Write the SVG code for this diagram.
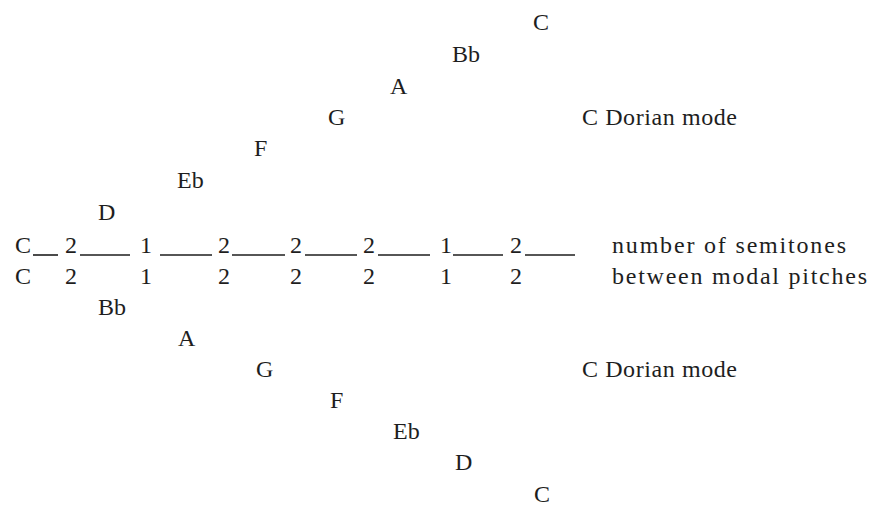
<svg xmlns="http://www.w3.org/2000/svg" width="872" height="510" viewBox="0 0 872 510" font-family="'Liberation Serif', 'DejaVu Serif', 'Times New Roman', serif">
<style>
text{font-family:'Liberation Serif','DejaVu Serif','Times New Roman',serif;font-size:24px;fill:#1e1e1e}
.ln{stroke:#1e1e1e;stroke-width:1.6}
</style>
<rect width="872" height="510" fill="#fff"/>
<g id="upper-mode">
<text x="533" y="30">C</text>
<text x="452" y="62">Bb</text>
<text x="390" y="94">A</text>
<text x="328" y="125">G</text>
<text x="254" y="156">F</text>
<text x="177" y="188">Eb</text>
<text x="98" y="220">D</text>
<text x="582" y="125" textLength="155" lengthAdjust="spacing">C Dorian mode</text>
</g>
<g id="row1">
<text x="15" y="253">C</text>
<text x="65" y="253">2</text>
<text x="140" y="253">1</text>
<text x="218" y="253">2</text>
<text x="290" y="253">2</text>
<text x="363" y="253">2</text>
<text x="440" y="253">1</text>
<text x="510" y="253">2</text>
<text x="612" y="253" textLength="234" lengthAdjust="spacing">number of semitones</text>
</g>
<g id="row2">
<text x="15" y="284">C</text>
<text x="65" y="284">2</text>
<text x="140" y="284">1</text>
<text x="218" y="284">2</text>
<text x="290" y="284">2</text>
<text x="363" y="284">2</text>
<text x="440" y="284">1</text>
<text x="510" y="284">2</text>
<text x="612" y="284" textLength="255" lengthAdjust="spacing">between modal pitches</text>
</g>
<g id="connectors">
<line class="ln" x1="33" y1="255" x2="58" y2="255"/>
<line class="ln" x1="80" y1="255" x2="130" y2="255"/>
<line class="ln" x1="160" y1="255" x2="212" y2="255"/>
<line class="ln" x1="232" y1="255" x2="285" y2="255"/>
<line class="ln" x1="305" y1="255" x2="357" y2="255"/>
<line class="ln" x1="378" y1="255" x2="430" y2="255"/>
<line class="ln" x1="453" y1="255" x2="503" y2="255"/>
<line class="ln" x1="525" y1="255" x2="575" y2="255"/>
</g>
<g id="lower-mode">
<text x="98" y="315">Bb</text>
<text x="178" y="346">A</text>
<text x="256" y="377">G</text>
<text x="330" y="408">F</text>
<text x="393" y="439">Eb</text>
<text x="455" y="470">D</text>
<text x="534" y="502">C</text>
<text x="582" y="377" textLength="155" lengthAdjust="spacing">C Dorian mode</text>
</g>
</svg>
